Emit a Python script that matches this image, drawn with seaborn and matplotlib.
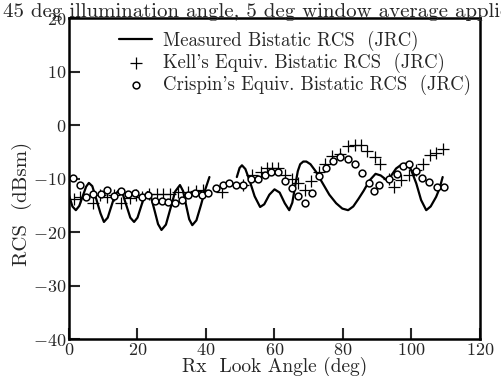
import matplotlib
matplotlib.use("Agg")
import matplotlib.pyplot as plt
import seaborn as sns

# ---------------- data ----------------
meas1_x = [0, 1, 2, 3, 4, 5, 5.8, 6.8, 8, 9.2, 10.2, 11.3, 12.4, 13.5, 14.6, 15.7, 16.8, 17.9, 19,
           20, 21, 22, 23, 24, 25, 26, 27, 28.3, 29.7, 31, 32.4, 33.3, 34.2, 35.1, 36, 37.2, 38.5, 39.8, 41]
meas1_y = [-13.1, -15.2, -15.9, -15.1, -13.3, -11.5, -10.8, -11.4, -13.9, -16.5, -18.1, -17.3, -15.1, -12.9,
           -12.2, -12.9, -15.1, -17.3, -18.1, -17.3, -15.3, -13.3, -12.5, -13.6, -16.0, -18.5, -19.6, -18.6,
           -15.4, -12.4, -11.2, -12.3, -15.0, -17.6, -18.7, -17.8, -15.0, -12.0, -9.7]
meas2_x = [49, 49.8, 50.5, 51.5, 52.8, 54.2, 55.8, 57, 58.5, 60, 61.5, 63, 64.3, 65.2, 66, 66.8, 67.5, 68.4,
           69.3, 70.5, 72, 74, 76, 78, 79.8, 81.5, 83, 84.5, 86, 87.8, 89.5, 91, 92.6, 94, 95.5, 97, 98.4,
           99.8, 101.4, 102.8, 104.3, 105.6, 107.2, 108.2, 109.1]
meas2_y = [-9.7, -8.0, -7.5, -8.2, -10.5, -13.3, -15.3, -14.8, -13.0, -12.0, -12.6, -14.6, -15.9, -14.5,
           -11.5, -8.6, -7.3, -6.8, -6.8, -7.3, -8.6, -10.8, -13.0, -14.6, -15.6, -15.9, -15.2, -13.8, -12.3,
           -10.3, -9.1, -9.4, -10.2, -9.5, -8.1, -7.4, -7.2, -8.2, -10.9, -14.0, -15.9, -15.2, -13.4, -11.8, -9.7]

kell_x = [1.5, 3.2, 7, 9, 11, 13, 15.2, 17.8, 19.5, 21.2, 23.4, 25.6, 27.5, 29.4, 31.9, 34.8, 37.2, 39.2,
          44.8, 50.9, 53.3, 56.2, 57.7, 59.4, 60.9, 63, 65, 66.9, 68.9, 70.8, 73, 74.6, 76.9, 79, 81.4,
          83.4, 85.3, 87, 89.2, 90.9, 93.4, 95, 97, 99.2, 101.4, 103.3, 105.3, 107.2, 109.1]
kell_y = [-13.9, -13.5, -14.6, -13.0, -13.4, -13.0, -14.6, -13.7, -13.0, -13.4, -12.9, -12.8, -12.8, -12.8,
          -12.5, -12.5, -12.3, -12.2, -12.5, -11.2, -9.3, -8.7, -8.1, -8.1, -8.0, -9.3, -10.1, -10.9, -12.2,
          -10.4, -8.7, -7.2, -5.8, -5.4, -3.9, -3.7, -3.7, -4.8, -6.0, -7.2, -10.0, -11.5, -10.3, -9.3,
          -8.3, -7.2, -5.6, -5.2, -4.5]

crisp_x = [1.1, 3.2, 5, 7.1, 9.2, 11, 13.2, 15.2, 17.1, 19.3, 21.2, 23.2, 25.1, 27.1, 29, 30.9, 32.9, 34.8,
           36.8, 38.7, 40.7, 42.9, 44.9, 46.8, 48.8, 50.9, 53, 55.3, 57.2, 59, 61, 63.1, 65, 67, 68.9, 70.9,
           73.1, 75, 77, 79.1, 81.4, 83.5, 85.5, 87.6, 89.1, 90.6, 93.5, 95.7, 97.4, 99.3, 101.2, 103.2,
           105.2, 107.4, 109.5]
crisp_y = [-9.8, -11.2, -13.4, -12.8, -12.8, -12.2, -13.2, -12.3, -12.8, -12.7, -13.4, -13.1, -14.2, -14.2,
           -14.3, -14.5, -14.0, -13.1, -12.7, -13.1, -12.7, -11.8, -11.2, -10.9, -11.2, -11.2, -10.0, -10.0,
           -9.3, -8.7, -8.7, -10.4, -11.7, -13.2, -14.5, -12.7, -9.5, -8.1, -6.7, -6.0, -6.4, -7.3, -8.9,
           -10.8, -12.3, -11.1, -10.0, -9.2, -7.6, -7.3, -8.5, -9.9, -10.6, -11.6, -11.6]

x_ticks = [0, 20, 40, 60, 80, 100, 120]
y_ticks = [-40, -30, -20, -10, 0, 10, 20]

title = "45 deg illumination angle, 5 deg window average applied"
labels = ["Measured Bistatic RCS  (JRC)", "Kell's Equiv. Bistatic RCS  (JRC)",
          "Crispin's Equiv. Bistatic RCS  (JRC)"]

# ---------------- style ----------------
sns.set_style("white")
plt.rcParams["font.family"] = ["cmr10"]
plt.rcParams["mathtext.fontset"] = "cm"
plt.rcParams["axes.formatter.use_mathtext"] = True
plt.rcParams["axes.unicode_minus"] = True

fig = plt.figure(figsize=(5.02, 3.76), dpi=100)
ax = fig.add_axes([69 / 502, 1 - 339 / 376, (480 - 69) / 502, (339 - 18.3) / 376])

sns.lineplot(x=meas1_x, y=meas1_y, ax=ax, color="black", lw=1.6, label=labels[0], sort=False)
sns.lineplot(x=meas2_x, y=meas2_y, ax=ax, color="black", lw=1.6, sort=False)
sns.scatterplot(x=kell_x, y=kell_y, ax=ax, marker="+", s=80, color="black", linewidth=0.9,
                label=labels[1], zorder=3)
sns.scatterplot(x=crisp_x, y=crisp_y, ax=ax, marker="o", s=24, facecolor="white", edgecolor="black",
                linewidth=1.1, label=labels[2], zorder=4)

ax.set_xlim(0, 120)
ax.set_ylim(-40, 20)
ax.set_xticks(x_ticks)
ax.set_yticks(y_ticks)
ax.tick_params(direction="in", length=8, width=1.5, labelsize=13, pad=2,
               top=False, right=False, bottom=True, left=True)
for s in ax.spines.values():
    s.set_linewidth(1.8)
    s.set_color("black")

ax.set_xlabel("Rx  Look Angle (deg)", fontsize=14, labelpad=-1)
ax.set_ylabel("RCS  (dBsm)", fontsize=15)
ax.yaxis.set_label_coords(-0.09, 0.42)
fig.text(3 / 502, 1 - 17 / 376, title, ha="left", va="baseline", fontsize=15)

ax.legend(loc="upper left", bbox_to_anchor=(0.122, 0.962), frameon=False, fontsize=13.5,
          handlelength=1.75, handletextpad=0.6, labelspacing=0.1, borderpad=0, borderaxespad=0)

fig.savefig("out.png", dpi=100)
